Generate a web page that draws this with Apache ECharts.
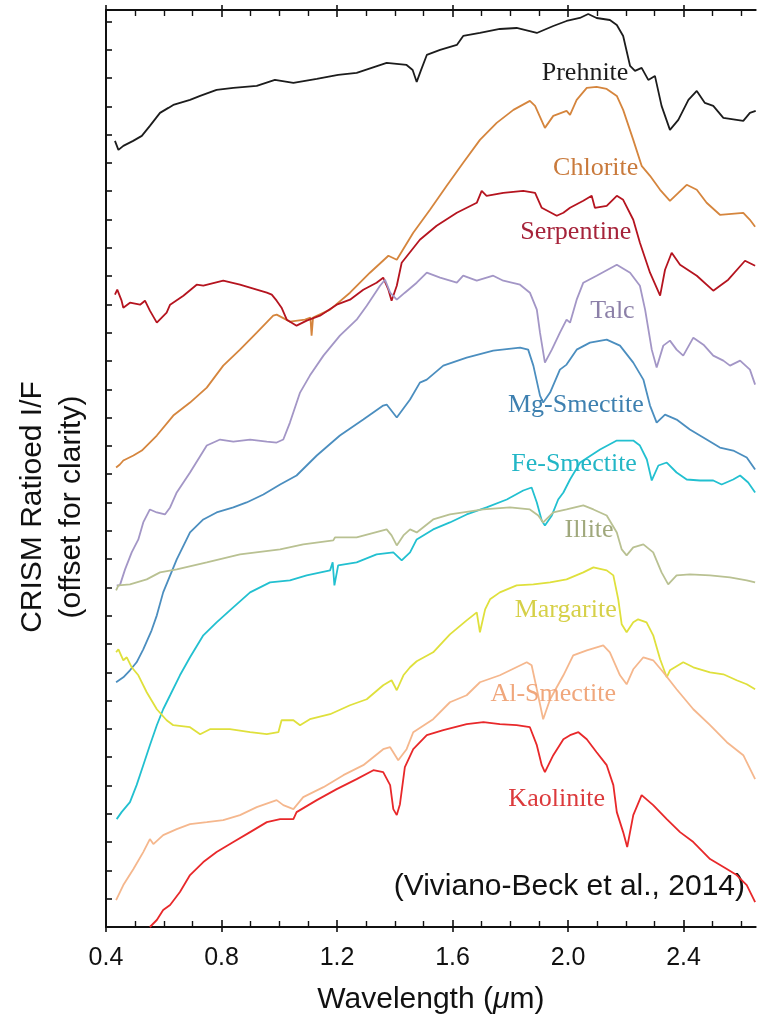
<!DOCTYPE html>
<html>
<head>
<meta charset="utf-8">
<script src="https://cdn.jsdelivr.net/npm/echarts@6/dist/echarts.min.js"></script>
<style>
  html, body { margin: 0; padding: 0; background: #fff; }
  #chart { width: 758px; height: 1020px; }
</style>
</head>
<body>
<div id="chart"></div>
<script>
// CRISM library spectra: [wavelength (µm), ratioed I/F with offset for clarity]
const prehnite = [[0.431,7.87],[0.443,7.78],[0.460,7.82],[0.494,7.87],[0.524,7.92],[0.552,8.02],[0.587,8.15],[0.616,8.20],[0.633,8.23],[0.691,8.28],[0.726,8.32],[0.783,8.38],[0.841,8.40],[0.922,8.42],[0.985,8.48],[1.049,8.45],[1.130,8.49],[1.204,8.53],[1.268,8.55],[1.372,8.65],[1.441,8.63],[1.462,8.58],[1.476,8.46],[1.490,8.57],[1.511,8.73],[1.557,8.78],[1.615,8.83],[1.637,8.92],[1.695,8.95],[1.764,8.99],[1.822,9.00],[1.892,8.95],[1.949,9.02],[1.995,9.07],[2.041,9.10],[2.070,9.14],[2.099,9.10],[2.145,9.08],[2.169,9.03],[2.191,8.92],[2.215,8.62],[2.232,8.57],[2.255,8.60],[2.278,8.48],[2.301,8.52],[2.324,8.22],[2.353,7.98],[2.382,8.08],[2.417,8.28],[2.446,8.37],[2.474,8.25],[2.503,8.22],[2.538,8.10],[2.607,8.07],[2.630,8.15],[2.650,8.17]];
const chlorite = [[0.435,4.60],[0.448,4.63],[0.460,4.67],[0.495,4.72],[0.524,4.77],[0.576,4.92],[0.633,5.12],[0.691,5.25],[0.749,5.40],[0.806,5.62],[0.864,5.78],[0.922,5.95],[0.979,6.12],[0.991,6.13],[1.037,6.06],[1.089,6.08],[1.108,6.10],[1.112,5.92],[1.117,6.10],[1.176,6.18],[1.245,6.35],[1.314,6.55],[1.378,6.72],[1.407,6.68],[1.464,6.95],[1.522,7.18],[1.580,7.42],[1.637,7.65],[1.695,7.88],[1.753,8.05],[1.811,8.18],[1.868,8.27],[1.886,8.22],[1.920,8.00],[1.949,8.12],[1.995,8.17],[2.007,8.13],[2.030,8.28],[2.065,8.40],[2.099,8.41],[2.134,8.39],[2.169,8.32],[2.191,8.18],[2.226,7.88],[2.255,7.62],[2.284,7.52],[2.319,7.38],[2.353,7.27],[2.382,7.35],[2.411,7.43],[2.446,7.38],[2.480,7.25],[2.526,7.13],[2.607,7.15],[2.630,7.08],[2.648,7.01]];
const serpentine = [[0.431,6.33],[0.439,6.38],[0.454,6.27],[0.460,6.20],[0.483,6.25],[0.518,6.23],[0.535,6.27],[0.552,6.17],[0.576,6.05],[0.610,6.15],[0.622,6.23],[0.668,6.32],[0.714,6.43],[0.737,6.42],[0.806,6.47],[0.864,6.43],[0.922,6.38],[0.957,6.35],[0.974,6.33],[0.991,6.27],[1.008,6.20],[1.026,6.08],[1.060,6.02],[1.095,6.07],[1.141,6.12],[1.199,6.23],[1.245,6.28],[1.291,6.38],[1.337,6.45],[1.360,6.50],[1.378,6.38],[1.389,6.27],[1.407,6.42],[1.424,6.65],[1.487,6.88],[1.545,7.02],[1.615,7.15],[1.684,7.25],[1.701,7.37],[1.718,7.32],[1.776,7.35],[1.845,7.37],[1.886,7.35],[1.909,7.20],[1.961,7.12],[1.984,7.15],[2.007,7.20],[2.053,7.27],[2.082,7.32],[2.093,7.20],[2.134,7.22],[2.169,7.32],[2.191,7.28],[2.226,7.08],[2.249,6.85],[2.284,6.55],[2.319,6.32],[2.336,6.58],[2.359,6.75],[2.388,6.63],[2.446,6.52],[2.503,6.37],[2.555,6.48],[2.613,6.67],[2.648,6.62]];
const talc = [[0.437,3.42],[0.448,3.42],[0.466,3.58],[0.489,3.75],[0.512,3.88],[0.529,4.05],[0.552,4.18],[0.576,4.15],[0.604,4.13],[0.622,4.20],[0.645,4.35],[0.691,4.55],[0.749,4.82],[0.795,4.88],[0.841,4.86],[0.899,4.88],[0.957,4.86],[0.991,4.85],[1.014,4.88],[1.037,5.05],[1.072,5.35],[1.106,5.52],[1.153,5.72],[1.210,5.92],[1.268,6.08],[1.303,6.22],[1.349,6.42],[1.366,6.48],[1.384,6.35],[1.407,6.28],[1.435,6.35],[1.476,6.45],[1.511,6.55],[1.557,6.50],[1.615,6.45],[1.637,6.52],[1.684,6.47],[1.741,6.52],[1.776,6.47],[1.834,6.43],[1.868,6.35],[1.892,6.18],[1.903,5.95],[1.920,5.65],[1.944,5.78],[1.972,5.95],[1.995,6.08],[2.007,6.05],[2.030,6.28],[2.053,6.45],[2.099,6.52],[2.169,6.63],[2.215,6.55],[2.249,6.42],[2.267,6.18],[2.290,5.78],[2.307,5.60],[2.330,5.82],[2.353,5.87],[2.376,5.78],[2.399,5.72],[2.434,5.90],[2.469,5.83],[2.503,5.72],[2.538,5.67],[2.561,5.62],[2.596,5.67],[2.630,5.58],[2.648,5.43]];
const mgSmectite = [[0.435,2.45],[0.460,2.50],[0.483,2.57],[0.506,2.65],[0.529,2.78],[0.558,2.97],[0.576,3.12],[0.598,3.35],[0.645,3.68],[0.691,3.95],[0.737,4.08],[0.783,4.15],[0.841,4.20],[0.887,4.25],[0.945,4.33],[1.003,4.43],[1.060,4.52],[1.130,4.72],[1.210,4.92],[1.291,5.08],[1.360,5.22],[1.372,5.23],[1.407,5.10],[1.453,5.28],[1.487,5.45],[1.511,5.48],[1.568,5.62],[1.649,5.70],[1.741,5.77],[1.834,5.80],[1.862,5.78],[1.880,5.62],[1.903,5.32],[1.914,5.25],[1.938,5.35],[1.972,5.58],[1.995,5.63],[2.030,5.78],[2.076,5.85],[2.134,5.88],[2.180,5.82],[2.226,5.65],[2.261,5.48],[2.284,5.22],[2.307,5.05],[2.336,5.13],[2.376,5.08],[2.422,4.98],[2.480,4.88],[2.526,4.80],[2.572,4.77],[2.619,4.70],[2.648,4.58]];
const feSmectite = [[0.437,1.08],[0.454,1.15],[0.483,1.25],[0.506,1.42],[0.529,1.62],[0.552,1.82],[0.576,2.02],[0.598,2.18],[0.622,2.32],[0.656,2.52],[0.691,2.70],[0.737,2.92],[0.783,3.05],[0.829,3.17],[0.899,3.35],[0.968,3.45],[1.037,3.47],[1.095,3.52],[1.176,3.57],[1.185,3.65],[1.191,3.42],[1.204,3.62],[1.268,3.65],[1.337,3.73],[1.395,3.75],[1.424,3.67],[1.453,3.75],[1.476,3.88],[1.533,3.98],[1.591,4.05],[1.649,4.13],[1.718,4.20],[1.788,4.28],[1.845,4.37],[1.874,4.40],[1.892,4.25],[1.909,4.07],[1.920,4.02],[1.944,4.12],[1.966,4.28],[1.984,4.35],[2.007,4.48],[2.042,4.65],[2.111,4.78],[2.169,4.87],[2.226,4.87],[2.249,4.82],[2.273,4.68],[2.290,4.47],[2.313,4.62],[2.342,4.65],[2.376,4.55],[2.411,4.48],[2.457,4.47],[2.503,4.47],[2.532,4.43],[2.572,4.48],[2.596,4.52],[2.624,4.45],[2.648,4.35]];
const illite = [[0.435,3.37],[0.443,3.42],[0.483,3.43],[0.541,3.48],[0.587,3.55],[0.645,3.58],[0.749,3.65],[0.864,3.73],[1.003,3.78],[1.083,3.83],[1.187,3.87],[1.193,3.90],[1.268,3.90],[1.372,3.98],[1.389,3.92],[1.407,3.82],[1.430,3.92],[1.453,3.98],[1.476,3.95],[1.533,4.08],[1.591,4.13],[1.707,4.18],[1.799,4.20],[1.868,4.18],[1.897,4.12],[1.914,4.05],[1.949,4.15],[1.995,4.18],[2.053,4.22],[2.088,4.18],[2.134,4.12],[2.169,3.95],[2.186,3.78],[2.203,3.72],[2.226,3.80],[2.261,3.83],[2.295,3.75],[2.324,3.55],[2.347,3.43],[2.376,3.52],[2.422,3.53],[2.492,3.52],[2.561,3.50],[2.619,3.47],[2.648,3.45]];
const margarite = [[0.435,2.75],[0.443,2.78],[0.460,2.67],[0.472,2.70],[0.489,2.60],[0.512,2.52],[0.541,2.35],[0.576,2.18],[0.610,2.07],[0.633,2.02],[0.691,2.00],[0.726,1.93],[0.760,1.98],[0.829,1.98],[0.899,1.95],[0.957,1.93],[0.997,1.95],[1.008,2.07],[1.049,2.07],[1.072,2.02],[1.106,2.08],[1.176,2.13],[1.245,2.22],[1.303,2.28],[1.360,2.42],[1.389,2.47],[1.407,2.37],[1.430,2.52],[1.453,2.60],[1.476,2.66],[1.533,2.75],[1.591,2.93],[1.649,3.07],[1.684,3.15],[1.695,2.95],[1.713,3.18],[1.730,3.28],[1.764,3.35],[1.822,3.42],[1.880,3.43],[1.938,3.45],[1.995,3.48],[2.053,3.55],[2.088,3.60],[2.134,3.57],[2.157,3.52],[2.174,3.28],[2.186,3.03],[2.203,2.95],[2.226,3.05],[2.243,3.08],[2.272,3.05],[2.295,2.92],[2.319,2.68],[2.342,2.50],[2.353,2.57],[2.399,2.65],[2.434,2.60],[2.492,2.55],[2.538,2.53],[2.584,2.47],[2.619,2.43],[2.648,2.38]];
const alSmectite = [[0.435,0.27],[0.460,0.42],[0.495,0.58],[0.529,0.75],[0.552,0.88],[0.564,0.83],[0.598,0.92],[0.645,0.98],[0.691,1.03],[0.749,1.05],[0.806,1.07],[0.864,1.12],[0.922,1.20],[0.991,1.27],[1.014,1.22],[1.049,1.18],[1.083,1.30],[1.153,1.40],[1.222,1.52],[1.291,1.62],[1.360,1.78],[1.384,1.80],[1.412,1.67],[1.441,1.78],[1.464,1.95],[1.533,2.08],[1.591,2.25],[1.649,2.32],[1.695,2.45],[1.764,2.52],[1.857,2.65],[1.874,2.62],[1.892,2.38],[1.914,2.08],[1.938,2.28],[1.984,2.52],[2.018,2.72],[2.065,2.77],[2.122,2.82],[2.145,2.75],[2.180,2.52],[2.203,2.43],[2.226,2.58],[2.261,2.70],[2.295,2.67],[2.330,2.55],[2.376,2.38],[2.434,2.18],[2.492,2.02],[2.550,1.85],[2.607,1.72],[2.648,1.48]];
const kaolinite = [[0.552,0.00],[0.576,0.07],[0.598,0.17],[0.622,0.22],[0.656,0.35],[0.691,0.52],[0.737,0.65],[0.783,0.75],[0.841,0.85],[0.899,0.95],[0.957,1.05],[1.003,1.08],[1.049,1.08],[1.060,1.15],[1.130,1.27],[1.199,1.38],[1.268,1.48],[1.326,1.57],[1.360,1.55],[1.384,1.42],[1.395,1.18],[1.407,1.12],[1.418,1.23],[1.435,1.60],[1.464,1.78],[1.511,1.92],[1.568,1.97],[1.649,2.03],[1.707,2.05],[1.764,2.03],[1.822,2.02],[1.868,2.00],[1.892,1.82],[1.909,1.62],[1.920,1.55],[1.949,1.72],[1.984,1.88],[2.007,1.92],[2.036,1.95],[2.065,1.88],[2.099,1.75],[2.134,1.62],[2.157,1.42],[2.169,1.15],[2.191,0.95],[2.205,0.80],[2.226,1.12],[2.255,1.32],[2.295,1.22],[2.342,1.08],[2.388,0.95],[2.434,0.85],[2.492,0.68],[2.550,0.58],[2.584,0.52],[2.619,0.42],[2.648,0.25]];

// wavelength axis ticks
const xTickValues = [0.4, 0.8, 1.2, 1.6, 2.0, 2.4];
const xTickLabels = ['0.4', '0.8', '1.2', '1.6', '2.0', '2.4'];

const X_MIN = 0.4, X_MAX = 2.65;
const Y_MIN = 0, Y_MAX = 9.18, Y_STEP = 0.2833;

const INK = '#111';
const SANS = '"Liberation Sans", Arial, Helvetica, sans-serif';
const SERIF = '"Liberation Serif", "Times New Roman", serif';

// one entry per mineral: line colour, name colour, where the name sits
const minerals = [
  { name: 'Prehnite',    data: prehnite,   line: '#1c1c1c', text: '#1c1c1c', at: [2.059, 8.55] },
  { name: 'Chlorite',    data: chlorite,   line: '#d5853d', text: '#c97a3c', at: [2.096, 7.60] },
  { name: 'Serpentine',  data: serpentine, line: '#b5141f', text: '#a6233a', at: [2.027, 6.96] },
  { name: 'Talc',        data: talc,       line: '#a396c6', text: '#8c80a8', at: [2.154, 6.17] },
  { name: 'Mg-Smectite', data: mgSmectite, line: '#4b8ebf', text: '#3e80b0', at: [2.027, 5.22] },
  { name: 'Fe-Smectite', data: feSmectite, line: '#22c0d0', text: '#22b6c6', at: [2.021, 4.63] },
  { name: 'Illite',      data: illite,     line: '#b9c192', text: '#a0a87c', at: [2.073, 3.97] },
  { name: 'Margarite',   data: margarite,  line: '#dfe03c', text: '#d6d048', at: [1.992, 3.17] },
  { name: 'Al-Smectite', data: alSmectite, line: '#f5b78d', text: '#f0a77c', at: [1.949, 2.33] },
  { name: 'Kaolinite',   data: kaolinite,  line: '#e8282a', text: '#dc3a3c', at: [1.961, 1.28] }
];

const tickLabel = v => {
  const i = xTickValues.findIndex(t => Math.abs(t - v) < 1e-6);
  return i >= 0 ? xTickLabels[i] : '';
};

// a wavelength axis; the box uses an inward copy (with minor ticks) and an outward copy
function wavelengthAxis(position, inward, withLabels) {
  return {
    type: 'value',
    position: position,
    min: X_MIN,
    max: X_MAX,
    interval: 0.4,
    splitLine: { show: false },
    axisLine: { show: inward, onZero: false, lineStyle: { color: INK, width: 2 } },
    axisTick: {
      show: true,
      inside: inward,
      length: inward ? 7 : 5,
      customValues: xTickValues,
      lineStyle: { color: INK, width: 1.6 }
    },
    minorTick: {
      show: inward,
      splitNumber: 4,
      length: 6,
      lineStyle: { color: INK, width: 1.4 }
    },
    axisLabel: withLabels ? {
      show: true,
      customValues: xTickValues,
      formatter: tickLabel,
      color: INK,
      fontSize: 25,
      fontFamily: SANS,
      margin: 19
    } : { show: false }
  };
}

const bottomAxis = wavelengthAxis('bottom', true, true);
bottomAxis.name = 'Wavelength ({mu|\u03BC}m)';
bottomAxis.nameLocation = 'middle';
bottomAxis.nameGap = 58;
bottomAxis.nameTextStyle = {
  color: INK, fontSize: 30, fontFamily: SANS,
  rich: { mu: { color: INK, fontSize: 30, fontFamily: SANS, fontStyle: 'italic' } }
};

const series = minerals.map(m => ({
  name: m.name,
  type: 'line',
  data: m.data,
  showSymbol: false,
  symbol: 'none',
  clip: true,
  lineStyle: { color: m.line, width: 1.8 },
  emphasis: { disabled: true },
  markPoint: {
    symbol: 'circle',
    symbolSize: 1,
    itemStyle: { color: 'rgba(0,0,0,0)' },
    label: {
      show: true,
      position: 'inside',
      formatter: m.name,
      color: m.text,
      fontSize: 26,
      fontFamily: SERIF
    },
    data: [{ coord: m.at }]
  }
}));

const chart = echarts.init(document.getElementById('chart'), null, { renderer: 'canvas' });
chart.setOption({
  animation: false,
  backgroundColor: '#fff',
  grid: { left: 106, right: 2.3, top: 10, bottom: 91.7, containLabel: false },
  xAxis: [
    bottomAxis,
    wavelengthAxis('bottom', false, false),
    wavelengthAxis('top', true, false),
    wavelengthAxis('top', false, false)
  ],
  yAxis: {
    type: 'value',
    min: Y_MIN,
    max: Y_MAX,
    interval: Y_STEP,
    position: 'left',
    splitLine: { show: false },
    axisLine: { show: true, onZero: false, lineStyle: { color: INK, width: 2 } },
    axisTick: { show: true, inside: true, length: 6, lineStyle: { color: INK, width: 1.6 } },
    axisLabel: { show: false }
  },
  series: series,
  graphic: [
    {
      type: 'text', x: 33, y: 507, rotation: Math.PI / 2,
      style: { text: 'CRISM Ratioed I/F', fill: INK, fontSize: 30, fontFamily: SANS, align: 'center', verticalAlign: 'middle' }
    },
    {
      type: 'text', x: 72, y: 507, rotation: Math.PI / 2,
      style: { text: '(offset for clarity)', fill: INK, fontSize: 30, fontFamily: SANS, align: 'center', verticalAlign: 'middle' }
    },
    {
      type: 'text', x: 745, y: 887,
      style: { text: '(Viviano-Beck et al., 2014)', fill: INK, fontSize: 30, fontFamily: SANS, align: 'right', verticalAlign: 'middle' }
    }
  ]
});
</script>
</body>
</html>
